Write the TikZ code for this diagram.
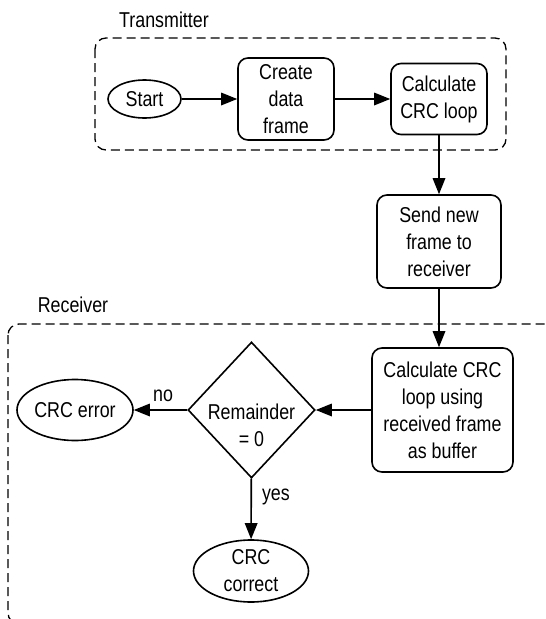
\documentclass[tikz,border=0pt]{standalone}
\usepackage{fontspec}
\setmainfont{Liberation Sans}[FakeStretch=0.83]
\usetikzlibrary{shapes.geometric,arrows.meta}
\begin{document}
\begin{tikzpicture}[x=1pt,y=-1pt,
  every node/.style={font=\fontsize{21.5}{27}\selectfont, align=center, inner sep=0pt},
  box/.style={draw, line width=1.6pt, rounded corners=10pt},
  oval/.style={draw, line width=1.6pt, ellipse},
  dec/.style={draw, line width=1.6pt, diamond},
  group/.style={draw, line width=1.3pt, dash pattern=on 9pt off 5pt, rounded corners=11pt},
  flow/.style={line width=1.6pt, -{Triangle[length=16pt,width=12.5pt]}},
  lbl/.style={font=\fontsize{21.5}{27}\selectfont}]
\path[use as bounding box] (0,0) rectangle (546,619);
\clip (0,0) rectangle (546,619);
% groups
\draw[group] (95,38) rectangle (506,150);
\draw[group] (8,324) rectangle (570,624);
\node[lbl] (tx) at (164,20) {Transmitter};
\node[lbl] (rx) at (73,305) {Receiver};
% nodes
\node[oval, minimum width=73pt, minimum height=38pt] (start) at (144.5,99) {Start};
\node[box, minimum width=96pt, minimum height=82pt] (create) at (286,99) {Create\\data\\frame};
\node[box, minimum width=96pt, minimum height=71pt] (calc) at (439,99) {Calculate\\CRC loop};
\node[box, minimum width=124pt, minimum height=93pt] (send) at (439,241.5) {Send new\\frame to\\receiver};
\node[box, minimum width=141pt, minimum height=124pt] (calcrx) at (442.5,410) {Calculate CRC\\loop using\\received frame\\as buffer};
\node[dec, minimum width=127pt, minimum height=136pt, aspect=0.93] (rem) at (251.5,410) {};
\node (remtxt) at (251.5,425.5) {Remainder\\= 0};
\node[oval, minimum width=116pt, minimum height=61pt] (err) at (75,410) {CRC error};
\node[oval, minimum width=115pt, minimum height=62pt] (ok) at (251,571) {CRC\\correct};
% connectors
\draw[flow] (start) -- (create);
\draw[flow] (create) -- (calc);
\draw[flow] (calc) -- (send);
\draw[flow] (send.south) -- (send.south |- calcrx.north);
\draw[flow] (calcrx) -- (rem);
\draw[flow] (rem) -- node[lbl, above=7pt, pos=0.45] (no) {no} (err);
\draw[flow] (rem) -- node[lbl, right=10pt, pos=0.3] (yes) {yes} (ok);
\end{tikzpicture}
\end{document}
